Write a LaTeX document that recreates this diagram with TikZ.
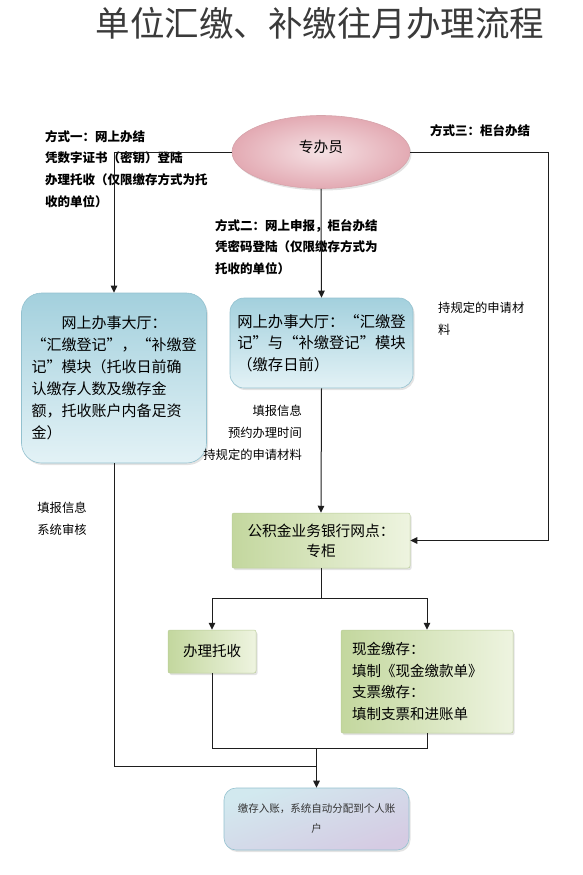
\documentclass[tikz,border=0pt]{standalone}
\usepackage{fontspec}
\setmainfont{Noto Sans CJK SC}
\usetikzlibrary{shapes.geometric,arrows.meta,shadows}
\definecolor{bluetop}{HTML}{A3D0DD}
\definecolor{bluebot}{HTML}{E3F2F6}
\definecolor{blueedge}{HTML}{93C1CF}
\definecolor{greenL}{HTML}{C3D79E}
\definecolor{greenR}{HTML}{EEF4E0}
\definecolor{greenedge}{HTML}{B9CC98}
\definecolor{pinkin}{HTML}{F5E1E4}
\definecolor{pinkout}{HTML}{E3AAB3}
\definecolor{pinkedge}{HTML}{D6A4AB}
\definecolor{sixL}{HTML}{D2E9EF}
\definecolor{sixM}{HTML}{E4EEF3}
\definecolor{sixR}{HTML}{D5CBE3}
\definecolor{titlec}{HTML}{3A3A3A}
\definecolor{linec}{HTML}{1E1E1E}
\begin{document}
\begin{tikzpicture}[x=1pt,y=-1pt,
  conn/.style={line width=1pt, draw=linec},
  arr/.style={conn, -{Triangle[length=7pt,width=6.5pt]}},
  shad/.style={drop shadow={opacity=0.22, shadow xshift=1.5pt, shadow yshift=-2pt}},
  bluebox/.style={rectangle, draw=blueedge, line width=0.6pt, top color=bluetop, bottom color=bluebot, shad, inner sep=0pt},
  greenbox/.style={rectangle, rounded corners=2pt, draw=greenedge, line width=0.5pt, left color=greenL, right color=greenR, shad, inner sep=0pt},
  lbl/.style={inner sep=0pt, font=\fontsize{12.5}{21.7}\selectfont\bfseries, align=left, anchor=north west},
  note/.style={inner sep=0pt, font=\fontsize{12.3}{22}\selectfont, align=right}]
\useasboundingbox (0,0) rectangle (583,875);

\node[inner sep=0pt, text=titlec, font=\fontsize{34.5}{40}\selectfont] (t) at (320,23) {单位汇缴、补缴往月办理流程};

\node[ellipse, draw=pinkedge, line width=0.6pt, inner color=pinkin, outer color=pinkout, minimum width=178pt, minimum height=73pt, inner sep=0pt, shad, font=\fontsize{14.7}{18}\selectfont] (zb) at (321,152) {\raisebox{11pt}{专办员}};

\node[bluebox, rounded corners=20pt, minimum width=185pt, minimum height=170pt, align=left, font=\fontsize{15}{22}\selectfont] (b1) at (114,378)
 {\hspace*{2em}网上办事大厅：\\“汇缴登记”，“补缴登\\记”模块（托收日前确\\认缴存人数及缴存金\\额，托收账户内备足资\\金）};

\node[bluebox, rounded corners=14pt, minimum width=183pt, minimum height=90pt, align=left, font=\fontsize{15.3}{21.5}\selectfont] (b2) at (321.5,343)
 {网上办事大厅：“汇缴登\\记”与“补缴登记”模块\\（缴存日前）};

\node[greenbox, minimum width=178pt, minimum height=55pt, align=center, font=\fontsize{14.7}{20}\selectfont] (b3) at (321,540.5)
 {公积金业务银行网点：\\专柜};

\node[greenbox, minimum width=88pt, minimum height=43pt, font=\fontsize{14.5}{18}\selectfont] (b4) at (212,651.5) {办理托收};

\node[greenbox, minimum width=172pt, minimum height=103pt, text width=150pt, align=left, font=\fontsize{14.5}{21.7}\selectfont] (b5) at (427,681.5)
 {现金缴存：\\填制《现金缴款单》\\支票缴存：\\填制支票和进账单};

\node[rectangle, rounded corners=12pt, draw=blueedge, line width=0.6pt, left color=sixL, middle color=sixM, right color=sixR, shading angle=20, shad, minimum width=185pt, minimum height=62pt, inner sep=0pt, align=center, text=black!80, font=\fontsize{10.5}{20}\selectfont] (b6) at (316.5,819)
 {缴存入账，系统自动分配到个人账\\户};

\node[lbl] (m1) at (45,130) {方式一：网上办结\\凭数字证书（密钥）登陆\\办理托收（仅限缴存方式为托\\收的单位）};
\node[lbl] (m2) at (215,219) {方式二：网上申报，柜台办结\\凭密码登陆（仅限缴存方式为\\托收的单位）};
\node[lbl] (m3) at (430,124) {方式三：柜台办结};
\node[note, align=left, anchor=north west] (n3) at (438,302) {持规定的申请材\\料};
\node[note, anchor=north east] (n2) at (302,405) {填报信息\\预约办理时间\\持规定的申请材料};
\node[note, align=center, anchor=north] (n1) at (62,502) {填报信息\\系统审核};

\coordinate (rc) at (548,152);
\coordinate (sp) at (321,598);
\coordinate (mg) at (316.5,748);
\coordinate (mg2) at (316.5,766);

\draw[arr] (zb.west) -| (b1.north);
\draw[arr] (zb.east) -- (rc) |- (b3.east);
\draw[arr] (zb.south) -- (b2.north);
\draw[arr] (b2.south) -- (b3.north);
\draw[conn] (b3.south) -- (sp);
\draw[arr] (sp) -| (b4.north);
\draw[arr] (sp) -| (b5.north);
\draw[conn] (b4.south) |- (mg);
\draw[conn] (b5.south) |- (mg);
\draw[conn] (b1.south) |- (mg2);
\draw[arr] (mg) -- (b6.north);
\end{tikzpicture}
\end{document}
